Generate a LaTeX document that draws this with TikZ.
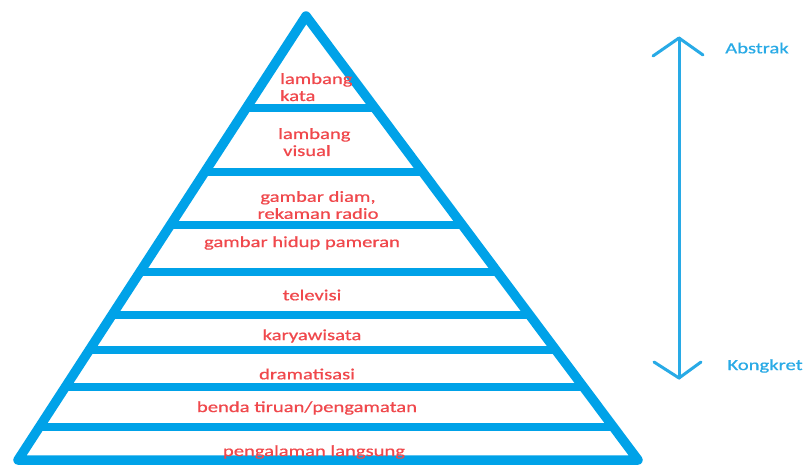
\documentclass[tikz,border=0pt]{standalone}
\usepackage{fontspec}
\newfontfamily\lblfont[FakeStretch=1.33,FakeBold=0.6]{Carlito}
\usetikzlibrary{calc}
\definecolor{pyr}{RGB}{0,162,232}
\definecolor{lvl}{RGB}{240,72,76}
\definecolor{axis}{RGB}{40,170,230}
\tikzset{
  edge/.style={draw=pyr, line width=9.5pt, line join=round, line cap=round},
  bar/.style={draw=pyr, line width=8pt},
  level/.style={text=lvl, font=\lblfont\fontsize{15.5}{17}\selectfont, inner sep=0pt},
  pole/.style={text=axis, font=\lblfont\fontsize{15.5}{17}\selectfont, inner sep=0pt},
  axisline/.style={draw=axis, line width=3pt, line cap=round, line join=round}
}
\begin{document}
\begin{tikzpicture}[x=1pt,y=-1pt]
\useasboundingbox (0,0) rectangle (805,466);
\fill[white] (0,0) rectangle (805,466);

% outline of the pyramid
\coordinate (A) at (306,16);
\coordinate (L) at (18,460);
\coordinate (R) at (638,460);

% horizontal dividers between the levels
\foreach \yy in {108,172,225,272,315,350,387,427}{
  \draw[bar] ($(A)!{(\yy-16)/444}!(L)$) -- ($(A)!{(\yy-16)/444}!(R)$);
}
\draw[edge] (L) -- (A) -- (R) -- cycle;

% level labels
\node[level, align=left, anchor=north west] (kata) at (280,73) {lambang\\kata};
\node[level, align=left, anchor=north west] (visual) at (278,128) {lambang\\\hspace*{5pt}visual};
\node[level, align=center] (diam) at (318,205) {gambar diam,\\rekaman radio};
\node[level] (hidup) at (302,243) {gambar hidup pameran};
\node[level] (tv) at (312,295) {televisi};
\node[level] (wisata) at (312,336) {karyawisata};
\node[level] (drama) at (307,374) {dramatisasi};
\node[level] (benda) at (307,408) {benda tiruan/pengamatan};
\node[level] (langsung) at (314,452) {pengalaman langsung};

% abstract-concrete axis
\coordinate (up) at (679,38);
\coordinate (down) at (679,378);
\draw[axisline] (up) -- (down);
\draw[axisline] (653,56) -- (up) -- (703,55);
\draw[axisline] (654,362) -- (down) -- (701,362);
\node[pole] (abs) at (757,48) {Abstrak};
\node[pole] (kon) at (765,366) {Kongkret};
\end{tikzpicture}
\end{document}
